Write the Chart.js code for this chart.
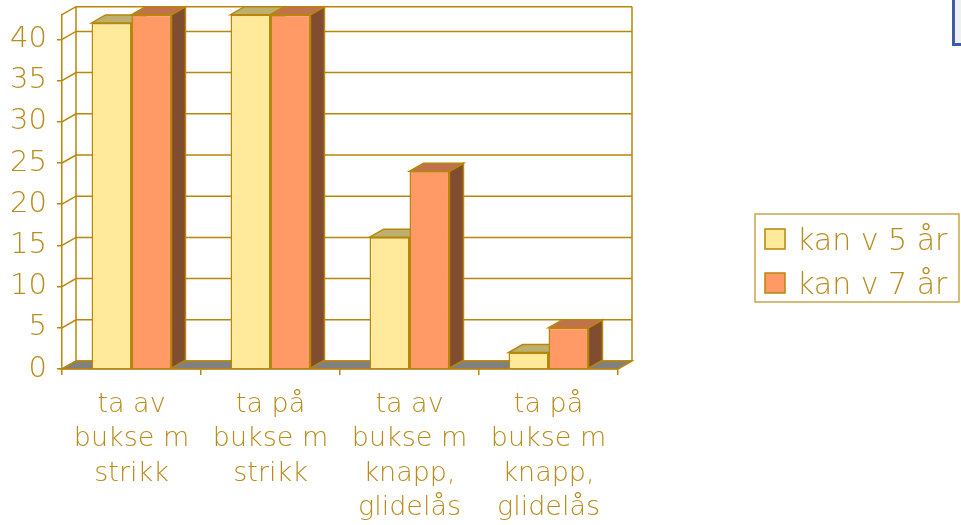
<!DOCTYPE html>
<html>
<head>
<meta charset="utf-8">
<script src="https://cdn.jsdelivr.net/npm/chart.js@4.4.1/dist/chart.umd.min.js"></script>
<style>
  html, body { margin: 0; padding: 0; background: #fff; }
  #wrap { position: relative; width: 961px; height: 525px; overflow: hidden; }
  #corner {
    position: absolute; left: 952px; top: -3px; width: 20px; height: 46px;
    background: #f0f0f0; border-left: 3px solid #3b5ea6; border-bottom: 3px solid #3b5ea6;
  }
</style>
</head>
<body>
<div id="wrap">
  <canvas id="myChart" width="961" height="525"></canvas>
  <div id="corner"></div>
</div>
<script>
const categories = [
  ["ta av", "bukse m", "strikk"],
  ["ta på", "bukse m", "strikk"],
  ["ta av", "bukse m", "knapp,", "glidelås"],
  ["ta på", "bukse m", "knapp,", "glidelås"],
];
const seriesNames = ["kan v 5 år", "kan v 7 år"];
const kan5 = [42, 43, 16, 2];
const kan7 = [43, 43, 24, 5];
const yTickValues = [0, 5, 10, 15, 20, 25, 30, 35, 40];
const yMax = 43;

const gold = "#b8860b";
const textGold = "#b88c1c";
const fontFamily = "'DejaVu Sans', sans-serif";
// depth of the fake 3d box
const DX = 14;
const DY = -8;

function poly(ctx, pts, fill, stroke) {
  ctx.beginPath();
  ctx.moveTo(pts[0][0], pts[0][1]);
  for (let i = 1; i < pts.length; i++) ctx.lineTo(pts[i][0], pts[i][1]);
  ctx.closePath();
  if (fill) {
    ctx.fillStyle = fill;
    ctx.fill();
  }
  if (stroke) {
    ctx.strokeStyle = stroke;
    ctx.stroke();
  }
}

const box3d = {
  id: "box3d",
  beforeDatasetsDraw(chart) {
    const ctx = chart.ctx;
    const area = chart.chartArea;
    const y = chart.scales.y;
    const L = area.left, R = area.right, B = area.bottom, T = area.top;
    ctx.save();
    ctx.lineWidth = 1.5;
    ctx.strokeStyle = gold;

    // back wall + left wall lines
    const lines = yTickValues.concat([yMax]);
    lines.forEach(function (v) {
      const py = y.getPixelForValue(v);
      ctx.beginPath();
      ctx.moveTo(L, py);
      ctx.lineTo(L + DX, py + DY);
      ctx.lineTo(R + DX, py + DY);
      ctx.stroke();
    });
    ctx.beginPath();
    ctx.moveTo(L + DX, T + DY);
    ctx.lineTo(L + DX, B + DY);
    ctx.moveTo(R + DX, T + DY);
    ctx.lineTo(R + DX, B + DY);
    ctx.stroke();

    // floor
    poly(ctx, [[L, B], [R, B], [R + DX, B + DY], [L + DX, B + DY]], "#808080", gold);

    // top and side faces of the bars, fronts are drawn by chart.js on top
    const shades = [
      { top: "#bdb06f", side: "#8c7f45" },
      { top: "#c0714d", side: "#804d31" },
    ];
    chart.data.datasets.forEach(function (ds, di) {
      const meta = chart.getDatasetMeta(di);
      meta.data.forEach(function (bar) {
        const x0 = bar.x - bar.width / 2;
        const x1 = bar.x + bar.width / 2;
        const top = bar.y;
        const base = bar.base;
        poly(ctx, [[x1, top], [x1 + DX, top + DY], [x1 + DX, base + DY], [x1, base]], shades[di].side, gold);
        poly(ctx, [[x0, top], [x1, top], [x1 + DX, top + DY], [x0 + DX, top + DY]], shades[di].top, gold);
      });
    });
    ctx.restore();
  },
  afterDraw(chart) {
    // legend box on the right
    const ctx = chart.ctx;
    ctx.save();
    ctx.lineWidth = 1.5;
    ctx.strokeStyle = "#c8a548";
    ctx.strokeRect(755, 214, 204, 88);
    ctx.font = "200 30px " + fontFamily;
    ctx.textBaseline = "alphabetic";
    ctx.textAlign = "left";
    chart.data.datasets.forEach(function (ds, i) {
      const yy = 229 + i * 44;
      ctx.fillStyle = ds.backgroundColor;
      ctx.fillRect(765, yy, 20, 20);
      ctx.strokeStyle = gold;
      ctx.strokeRect(765, yy, 20, 20);
      ctx.fillStyle = textGold;
      ctx.fillText(ds.label, 797, yy + 21);
    });
    ctx.restore();
  },
};

const ctx = document.getElementById("myChart").getContext("2d");

const data = {
  labels: categories,
  datasets: [
    {
      label: seriesNames[0],
      data: kan5,
      backgroundColor: "#ffea9b",
      borderColor: gold,
      borderWidth: 1.5,
    },
    {
      label: seriesNames[1],
      data: kan7,
      backgroundColor: "#ff9966",
      borderColor: gold,
      borderWidth: 1.5,
    },
  ],
};

const config = {
  type: "bar",
  data: data,
  plugins: [box3d],
  options: {
    responsive: false,
    animation: false,
    categoryPercentage: 0.575,
    barPercentage: 1,
    layout: {
      padding: { top: 14.7, right: 343, left: 0, bottom: 0 },
    },
    scales: {
      x: {
        afterFit(scale) {
          scale.height = 156;
          scale.paddingLeft = 0;
          scale.paddingRight = 0;
        },
        grid: {
          drawOnChartArea: false,
          tickLength: 6,
          color: gold,
          lineWidth: 1.5,
        },
        border: { display: true, color: gold, width: 1.5 },
        ticks: {
          color: textGold,
          padding: 13,
          maxRotation: 0,
          autoSkip: false,
          font: { family: fontFamily, size: 27, weight: "200", lineHeight: 1.27 },
        },
      },
      y: {
        min: 0,
        max: yMax,
        afterFit(scale) {
          scale.width = 62;
          scale.paddingTop = 0;
          scale.paddingBottom = 0;
        },
        afterBuildTicks(scale) {
          scale.ticks = yTickValues.map(function (v) { return { value: v }; });
        },
        grid: {
          drawOnChartArea: false,
          tickLength: 5,
          color: gold,
          lineWidth: 1.5,
        },
        border: { display: true, color: gold, width: 1.5 },
        ticks: {
          color: textGold,
          padding: 10,
          font: { family: fontFamily, size: 29, weight: "200" },
        },
      },
    },
    plugins: {
      legend: { display: false },
      title: { display: false },
      tooltip: { enabled: false },
    },
  },
};

const myChart = new Chart(ctx, config);
</script>
</body>
</html>
